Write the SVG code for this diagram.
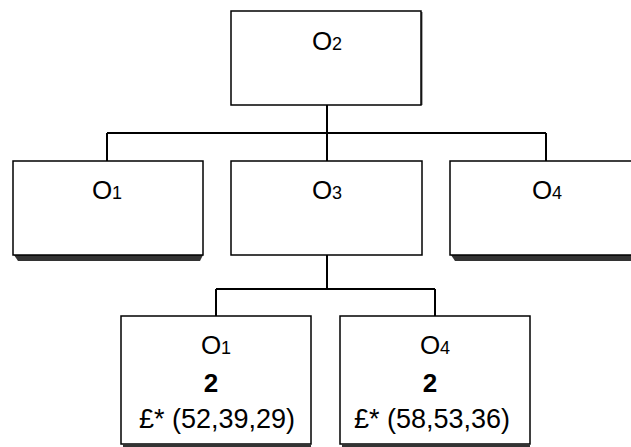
<svg xmlns="http://www.w3.org/2000/svg" width="631" height="447" viewBox="0 0 631 447">
  <style>
    .box { fill: #ffffff; stroke: #000000; stroke-width: 1.5; }
    .shadow { fill: #333333; }
    .wire { fill: none; stroke: #000000; stroke-width: 2; }
    .lbl { font-family: "Liberation Sans", Arial, sans-serif; fill: #000000; text-anchor: middle; }
    .big { font-size: 26px; }
    .sub { font-size: 18px; }
    .line { font-size: 27px; }
    .bold { font-weight: bold; }
  </style>

  <!-- connectors -->
  <g id="connectors">
    <path class="wire" d="M327,105 V133 M107,133 H546 M107,133 V161 M327,133 V161 M546,133 V161"/>
    <path class="wire" d="M327,255 V289 M216,289 H435 M216,289 V316 M435,289 V316"/>
  </g>

  <!-- top node -->
  <g id="node-o2">
    <rect x="420" y="12" width="2.5" height="93" fill="#555555"/>
    <rect class="box" x="231" y="11" width="190" height="94"/>
    <text class="lbl" x="327" y="50"><tspan class="big">O</tspan><tspan class="sub">2</tspan></text>
  </g>

  <!-- second row -->
  <g id="node-o1">
    <path class="shadow" d="M14,255 H203 L200,261 H18 Z"/>
    <rect class="box" x="13" y="161" width="190" height="94"/>
    <text class="lbl" x="107" y="199"><tspan class="big">O</tspan><tspan class="sub">1</tspan></text>
  </g>

  <g id="node-o3">
    <rect class="box" x="231" y="161" width="191" height="94"/>
    <text class="lbl" x="327" y="199"><tspan class="big">O</tspan><tspan class="sub">3</tspan></text>
  </g>

  <g id="node-o4">
    <path class="shadow" d="M451,255 H631 V261 H455 Z"/>
    <rect class="box" x="450" y="161" width="190" height="94"/>
    <text class="lbl" x="547" y="199"><tspan class="big">O</tspan><tspan class="sub">4</tspan></text>
  </g>

  <!-- bottom row -->
  <g id="node-o1-leaf">
    <rect class="box" x="121" y="316" width="190" height="128"/>
    <rect class="shadow" x="123" y="444" width="188" height="3"/>
    <text class="lbl" x="216" y="354"><tspan class="big">O</tspan><tspan class="sub">1</tspan></text>
    <text class="lbl big bold" x="211" y="392">2</text>
    <text class="lbl line" x="217" y="428">£* (52,39,29)</text>
  </g>

  <g id="node-o4-leaf">
    <rect class="box" x="340" y="316" width="190" height="128"/>
    <rect class="shadow" x="342" y="444" width="188" height="3"/>
    <text class="lbl" x="435" y="354"><tspan class="big">O</tspan><tspan class="sub">4</tspan></text>
    <text class="lbl big bold" x="430" y="392">2</text>
    <text class="lbl line" x="432" y="428">£* (58,53,36)</text>
  </g>
</svg>
